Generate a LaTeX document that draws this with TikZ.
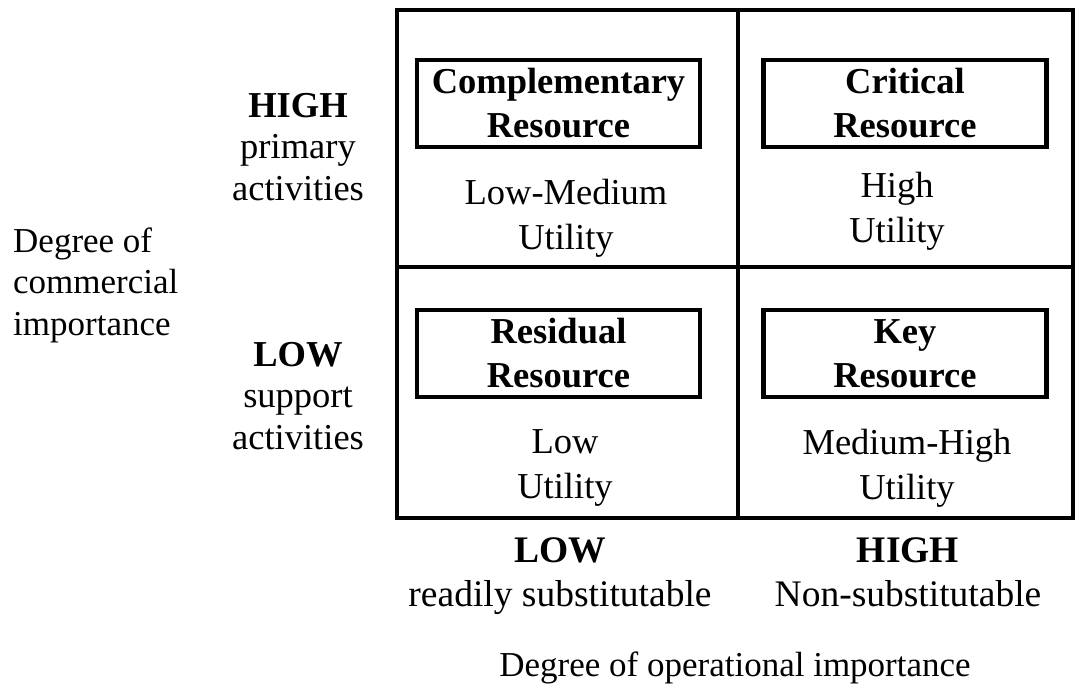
\documentclass[tikz,border=0pt]{standalone}
\usepackage{fontspec}
\setmainfont{Liberation Serif}
\usepackage{tikz}
\usetikzlibrary{positioning}

\begin{document}
\begin{tikzpicture}[
  x=1pt, y=-1pt,
  grid/.style={line width=4pt},
  resbox/.style={draw, line width=4.5pt, align=center, minimum width=283pt,
    minimum height=87pt, inner sep=0pt,
    font=\fontsize{36.5}{44}\selectfont\bfseries},
  utility/.style={align=center, inner sep=0pt, anchor=north,
    font=\fontsize{36.5}{45}\selectfont},
  axislabel/.style={align=center, inner sep=0pt, anchor=north,
    font=\fontsize{36.5}{41.5}\selectfont},
  optlabel/.style={align=center, inner sep=0pt, anchor=north,
    font=\fontsize{37.5}{44}\selectfont},
  axistitle/.style={inner sep=0pt, font=\fontsize{35}{41.5}\selectfont}
]
\useasboundingbox (0,0) rectangle (1078,686);

% matrix frame
\draw[grid] (397,10) rectangle (1073,518);
\draw[grid] (738,10) -- (738,518);
\draw[grid] (397,267) -- (1073,267);

% resource boxes
\node[resbox] (comp) at (558.5,103.5) {Complementary\\Resource};
\node[resbox] (crit) at (905,103.5) {Critical\\Resource};
\node[resbox] (resid) at (558.5,353.5) {Residual\\Resource};
\node[resbox] (key) at (905,353.5) {Key\\Resource};

% utility
\node[utility] (compu) at (566,178.5) {Low-Medium\\Utility};
\node[utility] (critu) at (897,172) {High\\Utility};
\node[utility] (residu) at (565,429.5) {Low\\Utility};
\node[utility] (keyu) at (907,428.5) {Medium-High\\Utility};

% commercial axis
\node[axislabel] (high) at (298,93) {\textbf{HIGH}\\primary\\activities};
\node[axislabel] (low) at (298,342) {\textbf{LOW}\\support\\activities};
\node[axistitle, align=left, anchor=north west] (commercial) at (13,227.5)
  {Degree of\\commercial\\importance};

% operational axis
\node[optlabel] (lowop) at (560,537) {\textbf{LOW}\\readily substitutable};
\node[optlabel] (highop) at (908,537) {\textbf{HIGH}\\Non-substitutable};
\node[axistitle, anchor=north] (operational) at (735,652) {Degree of operational importance};
\end{tikzpicture}
\end{document}
